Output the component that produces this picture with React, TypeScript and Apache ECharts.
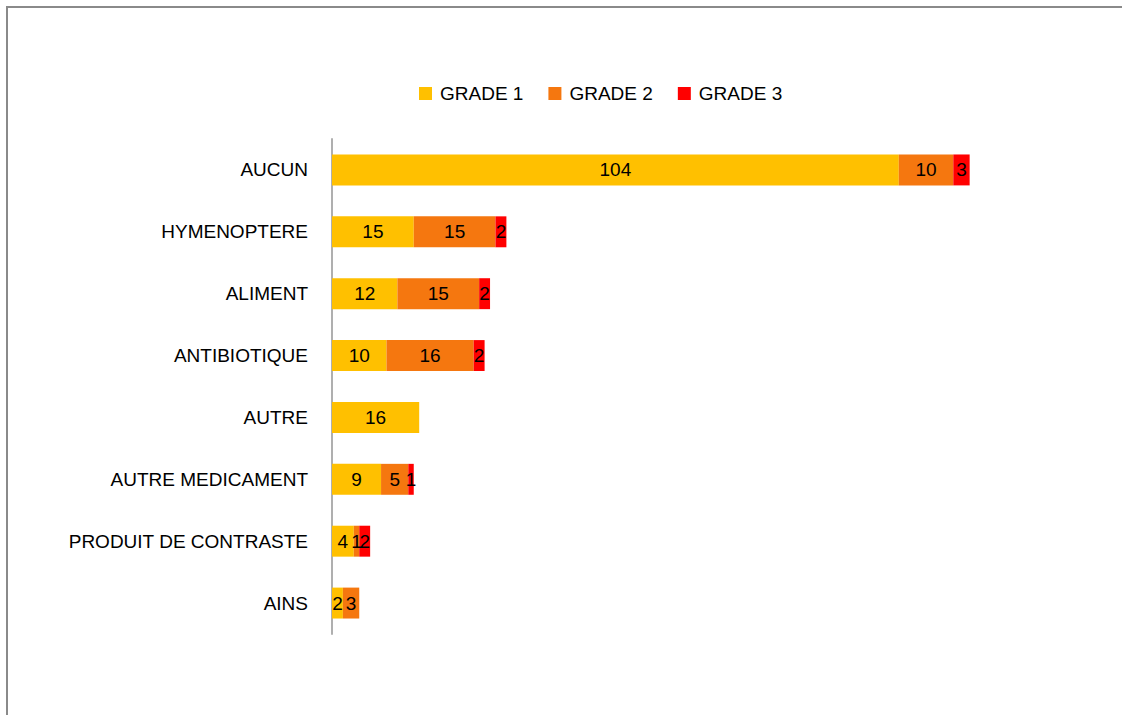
import React, { useEffect, useRef } from "react";
import * as echarts from "echarts";

const categories = [
  "AUCUN",
  "HYMENOPTERE",
  "ALIMENT",
  "ANTIBIOTIQUE",
  "AUTRE",
  "AUTRE MEDICAMENT",
  "PRODUIT DE CONTRASTE",
  "AINS",
];
const grade1 = [104, 15, 12, 10, 16, 9, 4, 2];
const grade2 = [10, 15, 15, 16, null, 5, 1, 3];
const grade3 = [3, 2, 2, 2, null, 1, 2, null];
const seriesNames = ["GRADE 1", "GRADE 2", "GRADE 3"];
const colors = ["#FFC000", "#F5770F", "#FF0000"];

const FONT = "Liberation Sans";

export default function App() {
  const ref = useRef<HTMLDivElement>(null);
  useEffect(() => {
    if (!ref.current) return;
    const chart = echarts.init(ref.current, null, { renderer: "svg" });
    const data = [grade1, grade2, grade3];
    chart.setOption({
      animation: false,
      backgroundColor: "#fff",
      textStyle: { fontFamily: FONT },
      legend: {
        top: 79,
        left: 414,
        itemWidth: 13,
        itemHeight: 13,
        itemGap: 25,
        icon: "rect",
        textStyle: { fontFamily: FONT, fontSize: 19, color: "#000", padding: [0, 0, 0, 3] },
        data: seriesNames,
      },
      grid: { left: 332, top: 139, height: 495, width: 763, containLabel: false },
      xAxis: {
        type: "value",
        min: 0,
        max: 140,
        show: false,
        splitLine: { show: false },
      },
      yAxis: {
        type: "category",
        inverse: true,
        data: categories,
        axisLine: { show: true, lineStyle: { color: "#AFAFAF", width: 2 } },
        axisTick: { show: false },
        axisLabel: { fontFamily: FONT, fontSize: 19, color: "#000", margin: 24 },
      },
      series: seriesNames.map((name, i) => ({
        name,
        type: "bar",
        stack: "total",
        barWidth: "50%",
        itemStyle: { color: colors[i] },
        label: {
          show: true,
          position: "inside",
          color: "#000",
          fontFamily: FONT,
          fontSize: 19,
          formatter: (p: any) => (p.value == null ? "" : String(p.value)),
        },
        data: data[i],
      })),
      graphic: [
        {
          type: "line",
          shape: { x1: 7, y1: 7, x2: 7, y2: 715 },
          style: { stroke: "#8A8A8A", lineWidth: 2 },
        },
        {
          type: "line",
          shape: { x1: 6, y1: 7, x2: 1122, y2: 7 },
          style: { stroke: "#8A8A8A", lineWidth: 2 },
        },
      ],
    });
    return () => chart.dispose();
  }, []);
  return (
    <div
      ref={ref}
      style={{ position: "absolute", left: 0, top: 0, width: 1122, height: 715 }}
    />
  );
}
